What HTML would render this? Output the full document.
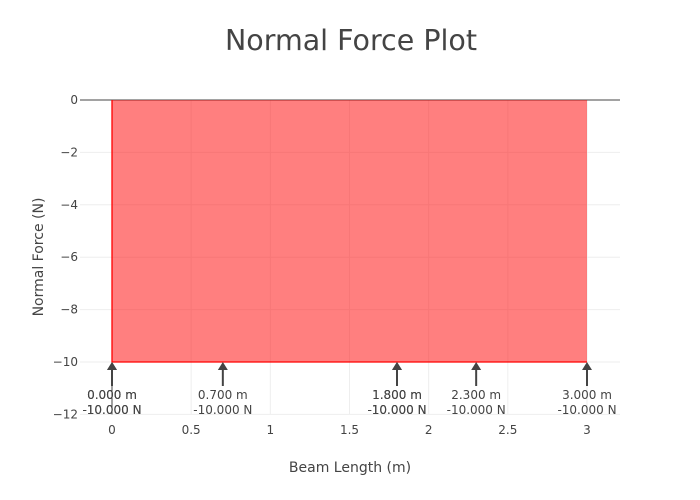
<!DOCTYPE html>
<html><head><meta charset="utf-8"><style>
body{margin:0;background:#fff}
svg{font-family:"DejaVu Sans","Liberation Sans",sans-serif;display:block}
</style></head><body>
<svg id="c" width="700" height="500">
<text x="351" y="50" text-anchor="middle" font-size="28.5" fill="#444">Normal Force Plot</text>
<g id="grid"></g><g id="axes"></g><g id="marks"></g><g id="ann"></g>
<text x="350" y="472" text-anchor="middle" font-size="14" fill="#444">Beam Length (m)</text>
<text transform="translate(43,257) rotate(-90)" text-anchor="middle" font-size="14" fill="#444">Normal Force (N)</text>
</svg>
<script>
const xs=[0,0,3,3];
const ys=[0,-10,-10,0];
const annX=[0,0,0.7,1.8,1.8,2.3,3];
const annY=[-10,-10,-10,-10,-10,-10,-10];
const xTicks=[0,0.5,1,1.5,2,2.5,3];
const yTicks=[0,-2,-4,-6,-8,-10,-12];
const NS='http://www.w3.org/2000/svg';
const L=80,R=620;
const X=v=>112+(v)*(587-112)/3;
const Y=v=>100+(-v)*(362-100)/10;
function mk(t,a,p){const e=document.createElementNS(NS,t);for(const k in a)e.setAttribute(k,a[k]);p.appendChild(e);return e;}
const grid=document.getElementById('grid'),marks=document.getElementById('marks'),ann=document.getElementById('ann'),axes=document.getElementById('axes');
xTicks.forEach(t=>{
 const l=mk('line',{x1:X(t),x2:X(t),y1:Y(0),y2:Y(-12),stroke:'#eee'},grid);
 
 
 const tx=mk('text',{x:X(t),y:434,'text-anchor':'middle','font-size':12,fill:'#444'},axes);tx.textContent=t;
 
 
});
yTicks.forEach(t=>{
 const l=mk('line',{x1:L,x2:R,y1:Y(t),y2:Y(t),stroke:'#eee'},grid);
 
 
 const tx=mk('text',{x:78,y:Y(t)+4,'text-anchor':'end','font-size':12,fill:'#444'},axes);tx.textContent=t===0?'0':'\u2212'+(-t);
 
 
});
const zl=mk('line',{x1:L,x2:R,y1:Y(0),y2:Y(0),stroke:'#444','stroke-width':1},axes);


const zx=mk('line',{x1:X(0),x2:X(0),y1:Y(0),y2:Y(-12),stroke:'#444','stroke-width':1},axes);


const pts=xs.map((v,i)=>X(v)+','+Y(ys[i])).join(' ');
const area=mk('polygon',{points:pts,fill:'rgba(255,0,0,0.5)',stroke:'none'},marks);


const line=mk('polyline',{points:xs.slice(0,3).map((v,i)=>X(v)+','+Y(ys[i])).join(' '),fill:'none',stroke:'red','stroke-width':1.3},marks);


annX.forEach((v,i)=>{
 const g=mk('g',{},ann);
 
 
 const x=X(v),y=Y(annY[i]);
 mk('line',{x1:x,x2:x,y1:y+24,y2:y+6,stroke:'#444','stroke-width':2},g);
 mk('polygon',{points:`${x},${y} ${x-5},${y+8} ${x+5},${y+8}`,fill:'#444'},g);
 const t1=mk('text',{x:x,y:y+37,'text-anchor':'middle','font-size':12,fill:'#444'},g);t1.textContent=v.toFixed(3)+' m';
 const t2=mk('text',{x:x,y:y+52,'text-anchor':'middle','font-size':12,fill:'#444'},g);t2.textContent=annY[i].toFixed(3)+' N';
});
</script>
</body></html>
